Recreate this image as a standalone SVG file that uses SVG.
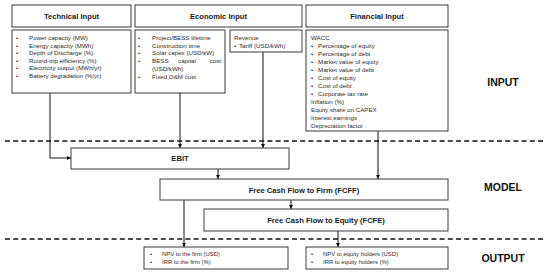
<svg xmlns="http://www.w3.org/2000/svg" width="550" height="274" viewBox="0 0 550 274">
<defs>
<style>
.box{fill:#fff;stroke:#3a3a3a;stroke-width:1}
.h{font-family:"Liberation Sans",Arial,sans-serif;font-weight:bold;font-size:7.6px;fill:#1a1a1a;text-anchor:middle}
.t{font-family:"Liberation Sans",Arial,sans-serif;font-size:6.2px;fill:#2a2a2a}
.o{font-family:"Liberation Sans",Arial,sans-serif;font-size:5.9px;fill:#2a2a2a}
.lab{font-family:"Liberation Sans",Arial,sans-serif;font-weight:bold;font-size:10.5px;fill:#111;text-anchor:middle}
.dash{stroke:#111;stroke-width:1.3;stroke-dasharray:5,3.2;fill:none}
.c{stroke:#111;stroke-width:1;fill:none;marker-end:url(#ah)}
</style>
<marker id="ah" viewBox="0 0 6 6" refX="6" refY="3" markerWidth="4" markerHeight="4" orient="auto" markerUnits="userSpaceOnUse">
<path d="M0,0 L6,3 L0,6 z" fill="#111"/>
</marker>
</defs>
<rect width="550" height="274" fill="#fff"/>

<line class="dash" x1="5" y1="141" x2="545" y2="141"/>
<line class="dash" x1="5" y1="239" x2="545" y2="239"/>

<g id="connectors">
<path class="c" d="M50,93 V158 H71"/>
<path class="c" d="M180,93 V148"/>
<path class="c" d="M263,52 V148"/>
<path class="c" d="M378,131 V179"/>
<path class="c" d="M218,169 V179"/>
<path class="c" d="M291,200 V209"/>
<path class="c" d="M184,200 V247"/>
<path class="c" d="M338,231 V247"/>
</g>

<g id="technical-header">
<rect class="box" x="12" y="5" width="119" height="22"/>
<text class="h" x="71.5" y="18.7">Technical Input</text>
</g>
<g id="technical-body">
<rect class="box" x="12" y="30" width="119" height="63"/>
<g class="t">
<text x="16" y="40">•</text><text x="29" y="40">Power capacity (MW)</text>
<text x="16" y="47.6">•</text><text x="29" y="47.6">Energy capacity (MWh)</text>
<text x="16" y="55.2">•</text><text x="29" y="55.2">Depth of Discharge (%)</text>
<text x="16" y="62.8">•</text><text x="29" y="62.8">Round-trip efficiency (%)</text>
<text x="16" y="70.4">•</text><text x="29" y="70.4">Electricity output (MWh/yr)</text>
<text x="16" y="78">•</text><text x="29" y="78">Battery degradation (%/yr)</text>
</g>
</g>

<g id="economic-header">
<rect class="box" x="135" y="5" width="167" height="22"/>
<text class="h" x="218.5" y="18.7">Economic Input</text>
</g>
<g id="economic-body">
<rect class="box" x="135" y="30" width="90" height="63"/>
<g class="t">
<text x="138" y="40">•</text><text x="152" y="40">Project/BESS lifetime</text>
<text x="138" y="47.7">•</text><text x="152" y="47.7">Construction time</text>
<text x="138" y="55.4">•</text><text x="152" y="55.4">Solar capex (USD/kW)</text>
<text x="138" y="63.1">•</text><text x="152" y="63.1">BESS</text><text x="187" y="63.1" text-anchor="middle">capital</text><text x="221" y="63.1" text-anchor="end">cost</text>
<text x="152" y="70.8">(USD/kWh)</text>
<text x="138" y="78.5">•</text><text x="152" y="78.5">Fixed O&amp;M cost</text>
</g>
</g>
<g id="revenue">
<rect class="box" x="230" y="30" width="72" height="22"/>
<g class="t">
<text x="234" y="40">Revenue</text>
<text x="234" y="47.7">•</text><text x="239" y="47.7">Tariff (USD/kWh)</text>
</g>
</g>

<g id="financial-header">
<rect class="box" x="306" y="5" width="142" height="22"/>
<text class="h" x="377" y="18.7">Financial Input</text>
</g>
<g id="financial-body">
<rect class="box" x="306" y="30" width="142" height="101"/>
<g class="t">
<text x="311" y="40">WACC</text>
<text x="311" y="48">•</text><text x="318" y="48">Percentage of equity</text>
<text x="311" y="56">•</text><text x="318" y="56">Percentage of debt</text>
<text x="311" y="64">•</text><text x="318" y="64">Market value of equity</text>
<text x="311" y="72">•</text><text x="318" y="72">Market value of debt</text>
<text x="311" y="80">•</text><text x="318" y="80">Cost of equity</text>
<text x="311" y="88">•</text><text x="318" y="88">Cost of debt</text>
<text x="311" y="96">•</text><text x="318" y="96">Corporate tax rate</text>
<text x="311" y="104">Inflation (%)</text>
<text x="311" y="112">Equity share on CAPEX</text>
<text x="311" y="120">Interest earnings</text>
<text x="311" y="128">Depreciation factor</text>
</g>
</g>

<g id="ebit">
<rect class="box" x="71" y="148" width="218" height="21"/>
<text class="h" x="180" y="161">EBIT</text>
</g>
<g id="fcff">
<rect class="box" x="160" y="179" width="288" height="21"/>
<text class="h" x="304" y="192.5">Free Cash Flow to Firm (FCFF)</text>
</g>
<g id="fcfe">
<rect class="box" x="204" y="209" width="244" height="22"/>
<text class="h" x="326" y="222.7">Free Cash Flow to Equity (FCFE)</text>
</g>

<g id="output-firm">
<rect class="box" x="144" y="247" width="144" height="22"/>
<g class="o">
<text x="150" y="256">•</text><text x="162" y="256">NPV to the firm (USD)</text>
<text x="150" y="264">•</text><text x="162" y="264">IRR to the firm (%)</text>
</g>
</g>
<g id="output-equity">
<rect class="box" x="306" y="247" width="142" height="22"/>
<g class="o">
<text x="311" y="256">•</text><text x="323" y="256">NPV to equity holders (USD)</text>
<text x="311" y="264">•</text><text x="323" y="264">IRR to equity holders (%)</text>
</g>
</g>

<g id="labels">
<text class="lab" x="503" y="86">INPUT</text>
<text class="lab" x="503" y="191">MODEL</text>
<text class="lab" x="503" y="262">OUTPUT</text>
</g>
</svg>
